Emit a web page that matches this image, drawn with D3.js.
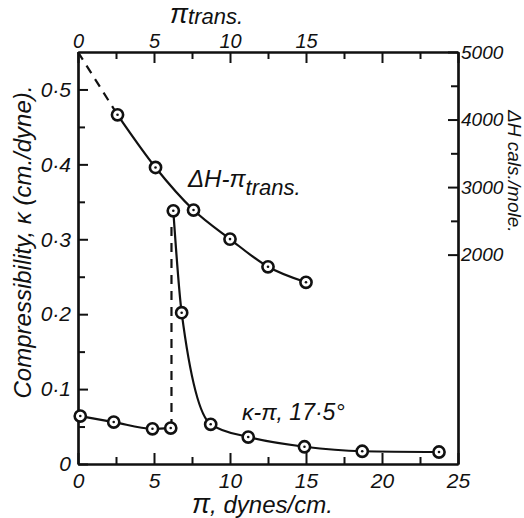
<!DOCTYPE html>
<html>
<head>
<meta charset="utf-8">
<script src="https://cdn.jsdelivr.net/npm/d3@7"></script>
<style>
  body { margin: 0; background: #fff; }
  text { font-family: "Liberation Sans", Arial, sans-serif; font-style: italic; fill: #111; }
</style>
</head>
<body>
<svg id="chart" width="524" height="518"></svg>
<script>
// ---- data ----
// compressibility vs pi, low-pressure branch (before the transition)
const kappaLowPi  = [0.15, 2.35, 4.9, 6.1];
const kappaLow    = [0.064, 0.056, 0.047, 0.048];
// compressibility vs pi, after the transition
const kappaHighPi = [6.27, 6.82, 8.73, 11.2, 14.9, 18.7, 23.75];
const kappaHigh   = [0.338, 0.202, 0.053, 0.036, 0.023, 0.017, 0.016];
// dashed vertical jump at the transition
const jumpPi      = [6.15, 6.15];
const jumpKappa   = [0.048, 0.318];
// Delta H vs pi trans.
const piTrans     = [2.6, 5.1, 7.6, 10.0, 12.5, 15.0];
const deltaH      = [4070, 3290, 2660, 2230, 1820, 1590];
// dashed extrapolation to pi = 0
const extrapPi    = [0, 2.6];
const extrapH     = [5000, 4070];

// ticks
const xMajor      = [0, 5, 10, 15, 20, 25];
const xMinor      = [2.5, 7.5, 12.5, 17.5, 22.5];
const topLabelled = [0, 5, 10, 15];
const kMajor      = [0, 0.1, 0.2, 0.3, 0.4, 0.5];
const kMinor      = [0.05, 0.15, 0.25, 0.35, 0.45];
const hMajor      = [2000, 3000, 4000, 5000];
const hMinor      = [2500, 3500, 4500];

const svg = d3.select("#chart");

// scales (top and bottom share the same pi scale)
const x  = d3.scaleLinear().domain([0, 25]).range([78, 458]);
const yK = d3.scaleLinear().domain([0, 0.55]).range([464, 52]);
const yH = d3.scaleLinear().domain([-1100, 5000]).range([464, 52]);

const fmtK = d => d === 0 ? "0" : d3.format(".1f")(d).replace(".", "\u00b7");

function styleAxis(g, size) {
  g.selectAll("path.domain").attr("stroke", "#111").attr("stroke-width", 2.2);
  g.selectAll(".tick line").attr("stroke", "#111").attr("stroke-width", 2);
  g.selectAll(".tick text").style("font-size", (size || 20) + "px").attr("fill", "#111");
  g.attr("font-family", null);
}

// bottom axis
svg.append("g").attr("transform", "translate(0,464)")
  .call(d3.axisBottom(x).tickValues(xMajor).tickSizeInner(-11).tickSizeOuter(0).tickPadding(9))
  .call(styleAxis, 21);
svg.append("g").attr("transform", "translate(0,464)")
  .call(d3.axisBottom(x).tickValues(xMinor).tickSizeInner(-7).tickSizeOuter(0).tickFormat(""))
  .call(styleAxis);

// top axis
svg.append("g").attr("transform", "translate(0,52)")
  .call(d3.axisTop(x).tickValues(xMajor).tickSizeInner(-11).tickSizeOuter(0).tickPadding(4)
    .tickFormat(d => topLabelled.includes(d) ? d : ""))
  .call(styleAxis, 20);
svg.append("g").attr("transform", "translate(0,52)")
  .call(d3.axisTop(x).tickValues(xMinor).tickSizeInner(-7).tickSizeOuter(0).tickFormat(""))
  .call(styleAxis);

// left axis
svg.append("g").attr("transform", "translate(78,0)")
  .call(d3.axisLeft(yK).tickValues(kMajor).tickSizeInner(-10).tickSizeOuter(0).tickPadding(7).tickFormat(fmtK))
  .call(styleAxis, 21);
svg.append("g").attr("transform", "translate(78,0)")
  .call(d3.axisLeft(yK).tickValues(kMinor).tickSizeInner(-7).tickSizeOuter(0).tickFormat(""))
  .call(styleAxis);

// right axis
svg.append("g").attr("transform", "translate(458,0)")
  .call(d3.axisRight(yH).tickValues(hMajor).tickSizeInner(-10).tickSizeOuter(0).tickPadding(3)
    .tickFormat(d3.format("d")))
  .call(styleAxis, 19);
svg.append("g").attr("transform", "translate(458,0)")
  .call(d3.axisRight(yH).tickValues(hMinor).tickSizeInner(-7).tickSizeOuter(0).tickFormat(""))
  .call(styleAxis);

// line generators
const lineK = d3.line().x(d => x(d[0])).y(d => yK(d[1])).curve(d3.curveMonotoneX);
const lineH = d3.line().x(d => x(d[0])).y(d => yH(d[1])).curve(d3.curveMonotoneX);
const straightK = d3.line().x(d => x(d[0])).y(d => yK(d[1]));
const straightH = d3.line().x(d => x(d[0])).y(d => yH(d[1]));

const lowPts   = d3.zip(kappaLowPi, kappaLow);
const highPts  = d3.zip(kappaHighPi, kappaHigh);
const jumpPts  = d3.zip(jumpPi, jumpKappa);
const hPts     = d3.zip(piTrans, deltaH);
const extPts   = d3.zip(extrapPi, extrapH);

const curves = svg.append("g").attr("fill", "none").attr("stroke", "#111").attr("stroke-width", 2.2);
curves.append("path").attr("d", lineK(lowPts));
curves.append("path").attr("d", lineK(highPts));
curves.append("path").attr("d", straightK(jumpPts)).attr("stroke-dasharray", "9,7");
curves.append("path").attr("d", lineH(hPts));
curves.append("path").attr("d", straightH(extPts)).attr("stroke-dasharray", "9,7");

// open circles with centre dots
function drawPoints(pts, yScale) {
  const g = svg.append("g");
  g.selectAll("circle.ring").data(pts).enter().append("circle")
    .attr("class", "ring")
    .attr("cx", d => x(d[0])).attr("cy", d => yScale(d[1]))
    .attr("r", 5.6).attr("fill", "#fff").attr("stroke", "#111").attr("stroke-width", 2.6);
  g.selectAll("circle.dot").data(pts).enter().append("circle")
    .attr("class", "dot")
    .attr("cx", d => x(d[0])).attr("cy", d => yScale(d[1]))
    .attr("r", 1.3).attr("fill", "#111");
}
drawPoints(lowPts, yK);
drawPoints(highPts, yK);
drawPoints(hPts, yH);

// curve labels
const lab1 = svg.append("text").attr("x", 188).attr("y", 187).style("font-size", "24px");
lab1.append("tspan").text("\u0394H-\u03c0");
lab1.append("tspan").attr("dy", 8).style("font-size", "22px").text("trans.");

svg.append("text").attr("x", 242).attr("y", 420).style("font-size", "23px")
  .text("\u03ba-\u03c0, 17\u00b75\u00b0");

// axis titles
const topTitle = svg.append("text").attr("x", 170).attr("y", 23);
topTitle.append("tspan").style("font-size", "27px").text("\u03c0");
topTitle.append("tspan").style("font-size", "22px").attr("dy", 1).text("trans.");

const botTitle = svg.append("text").attr("x", 192).attr("y", 513).style("font-size", "24px");
botTitle.append("tspan").style("font-size", "27px").text("\u03c0");
botTitle.append("tspan").text(", dynes/cm.");

svg.append("text")
  .attr("transform", "translate(31,242) rotate(-90)")
  .attr("text-anchor", "middle")
  .style("font-size", "24px")
  .text("Compressibility, \u03ba (cm./dyne).");

svg.append("text")
  .attr("transform", "translate(508,110) rotate(90)")
  .style("font-size", "19px")
  .text("\u0394H cals./mole.");
</script>
</body>
</html>
